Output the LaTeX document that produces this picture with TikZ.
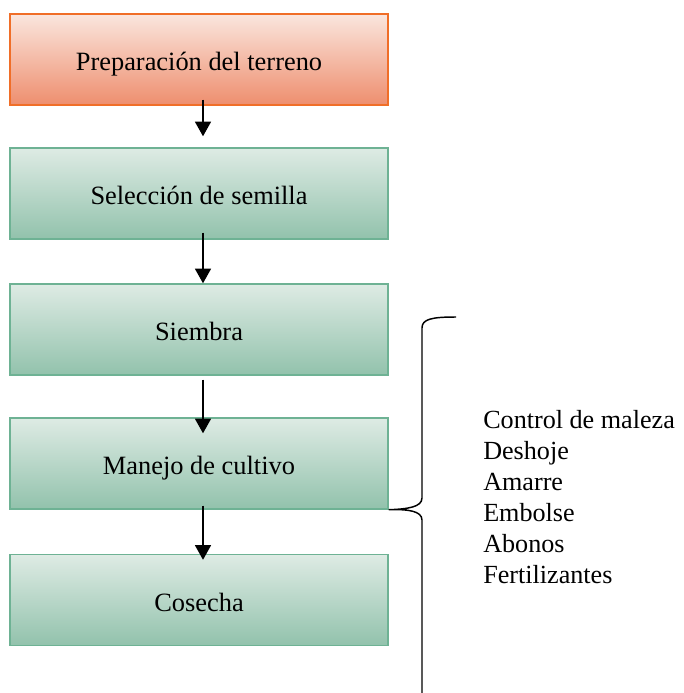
\documentclass[tikz,border=0pt]{standalone}
\usepackage{fontspec}
\setmainfont{Liberation Serif}
\usetikzlibrary{arrows.meta}

\definecolor{naranjaborde}{RGB}{240,110,40}
\definecolor{naranjaarriba}{RGB}{250,230,222}
\definecolor{naranjaabajo}{RGB}{238,142,110}
\definecolor{verdeborde}{RGB}{110,178,148}
\definecolor{verdearriba}{RGB}{222,235,228}
\definecolor{verdeabajo}{RGB}{146,194,172}

\begin{document}
\begin{tikzpicture}[x=0.75pt, y=-0.75pt,
    caja/.style={draw=verdeborde, line width=1.1pt,
        top color=verdearriba, bottom color=verdeabajo,
        minimum width=283.5pt, minimum height=68.25pt, inner sep=0pt,
        text height=21pt, text depth=4pt,
        font=\fontsize{19.8}{23}\selectfont},
    cajaini/.style={caja, draw=naranjaborde,
        top color=naranjaarriba, bottom color=naranjaabajo},
    flecha/.style={line width=1.2pt, -{Triangle[width=12pt,length=11pt]}}]

    % Fix the page size
    \useasboundingbox (0,0) rectangle (684,693);

    % Steps of the process
    \node[cajaini] (prep) at (199,59.5) {Preparación del terreno};
    \node[caja] (sel) at (199,193.5) {Selección de semilla};
    \node[caja] (siem) at (199,329.5) {Siembra};
    \node[caja] (manejo) at (199,463.5) {Manejo de cultivo};
    \node[caja] (cosecha) at (199,600) {Cosecha};

    % Arrows between the steps
    \draw[flecha] ([xshift=3pt,yshift=4.5pt]prep.south) -- ([xshift=3pt,yshift=8.25pt]sel.north);
    \draw[flecha] ([xshift=3pt,yshift=5.25pt]sel.south) -- ([xshift=3pt]siem.north);
    \draw[flecha] ([xshift=3pt,yshift=-3pt]siem.south) -- ([xshift=3pt,yshift=-12pt]manejo.north);
    \draw[flecha] ([xshift=3pt,yshift=3pt]manejo.south) -- ([xshift=3pt,yshift=-4.5pt]cosecha.north);

    % Brace of the crop tasks
    \coordinate (T) at (456,317);
    \coordinate (M) at (manejo.south east);
    \coordinate (B) at (422,693);
    \draw[line width=1.1pt] (T) .. controls (432,317) and (422,319) .. (422,328)
        -- (422,498) .. controls (422,507) and (408,509) .. (M)
        .. controls (408,509) and (422,511) .. (422,520) -- (B);

    % Tasks
    \node[anchor=base west, inner sep=0pt, align=left,
        font=\fontsize{19.6}{23.25}\selectfont] (tareas) at (483,583)
        {Control de maleza\\Deshoje\\Amarre\\Embolse\\Abonos\\Fertilizantes};

\end{tikzpicture}
\end{document}
